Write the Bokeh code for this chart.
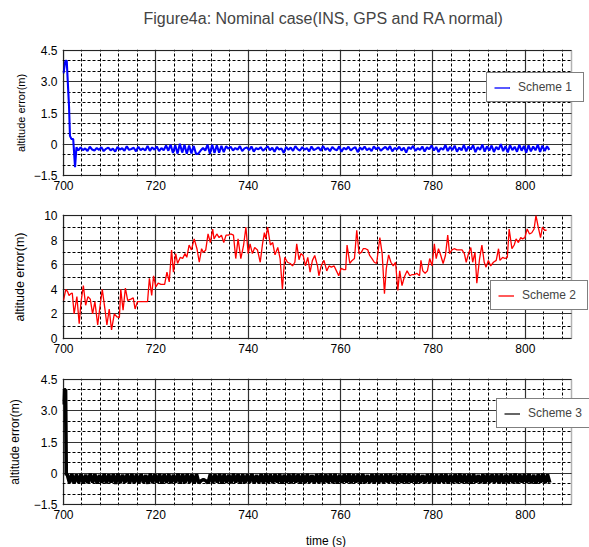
from bokeh.plotting import figure
from bokeh.models import FixedTicker, Legend, LegendItem, Title, Range1d, BoxAnnotation
from bokeh.layouts import column
from bokeh.embed import file_html
from bokeh.resources import INLINE
import numpy as np

FONT = "Liberation Sans"

# ---------------- data ----------------
x_lo, x_hi = 700, 810
x_major = [700, 720, 740, 760, 780, 800]
x_minor = [704, 708, 712, 716, 724, 728, 732, 736, 744, 748, 752, 756,
           764, 768, 772, 776, 784, 788, 792, 796, 804, 808]

# Scheme 1 (blue)
t1_head = [700.0, 700.4, 700.7, 701.2, 701.4, 701.7, 702.1, 702.5, 702.8]
v1_head = [3.4, 4.0, 4.0, 1.8, 0.4, 0.26, 0.25, -1.1, -0.15]
t1_start, t1_step = 703.2, 0.5
v1_body = [
    -0.30, -0.15, -0.28, -0.20, -0.32, -0.12, -0.25, -0.30, -0.18, -0.27,
    -0.14, -0.33, -0.22, -0.16, -0.29, -0.21, -0.35, -0.13, -0.26, -0.19,
    -0.31, -0.10, -0.27, -0.23, -0.17, -0.34, -0.12, -0.28, -0.20, -0.30,
    -0.08, -0.32, -0.15, -0.26, -0.11, -0.33, -0.18, -0.29, -0.06, -0.31,
    -0.02, -0.42, -0.05, -0.45, 0.02, -0.40, -0.03, -0.46, -0.06, -0.44, -0.08, -0.47,
    -0.45, -0.30, -0.18, -0.30, -0.02,
    -0.45, -0.02, -0.42, -0.05, -0.40, -0.08, -0.38, -0.10,
    -0.22, -0.12, -0.30, -0.18, -0.26, -0.09, -0.33, -0.20, -0.15, -0.28,
    -0.11, -0.35, -0.19, -0.24, -0.14, -0.31, -0.21, -0.10, -0.29, -0.17,
    -0.36, -0.13, -0.25, -0.20, -0.42, -0.12, -0.27, -0.16, -0.32, -0.09,
    -0.23, -0.30, -0.14, -0.26, -0.19, -0.34, -0.11, -0.28, -0.22, -0.15,
    -0.31, -0.08, -0.27, -0.18, -0.33, -0.13, -0.24, -0.29, -0.10, -0.36,
    -0.17, -0.25, -0.12, -0.30, -0.20, -0.14, -0.38, -0.16, -0.26, -0.11,
    -0.29, -0.19, -0.33, -0.10, -0.24, -0.15, -0.31, -0.21, -0.13, -0.27,
    -0.09, -0.34, -0.18, -0.25, -0.12, -0.30, -0.16, -0.40, -0.14, -0.23,
    -0.08, -0.32, -0.19, -0.27, -0.11, -0.35, -0.15, -0.24, -0.06, -0.30,
    -0.13, -0.37, -0.18, -0.26, -0.04, -0.33, -0.12, -0.28, -0.07, -0.36,
    -0.16, -0.29, -0.03, -0.34, -0.11, -0.25, -0.05, -0.38, -0.14, -0.27,
    -0.02, -0.35, -0.10, -0.30, -0.06, -0.37, -0.13, -0.26, 0.01, -0.33,
    -0.09, -0.39, -0.04, -0.28, -0.12, -0.36, -0.03, -0.31, -0.08, -0.40,
    -0.05, -0.34, -0.11, -0.29, -0.02, -0.37, -0.07, -0.32, -0.10, -0.27,
]

# Scheme 2 (red)
t2 = [
    700.0, 700.5, 700.9, 701.2, 701.6, 701.9, 702.3, 702.9, 703.4, 703.8,
    704.3, 704.8, 705.3, 705.8, 706.3, 706.8, 707.4, 707.9, 708.4, 709.0,
    709.4, 709.9, 710.4, 711.0, 711.6, 712.1, 712.4, 712.9, 713.4, 713.9,
    714.6, 715.1, 715.5, 716.0, 716.6, 717.1, 717.6, 718.2, 718.6, 719.1,
    719.5, 720.0, 720.5, 721.1, 721.5, 721.9, 722.4, 722.9, 723.4, 723.8,
    724.3, 724.7, 725.3, 725.8, 726.3, 726.7, 727.2, 727.7, 728.3, 728.9,
    729.4, 729.9, 730.3, 730.8, 731.3, 731.8, 732.3, 732.6, 733.2, 733.7,
    734.2, 734.7, 735.2, 735.7, 736.2, 736.8, 737.3, 737.8, 738.4, 739.0,
    739.5, 740.0, 740.4, 740.9, 741.4, 742.0, 742.6, 743.1, 743.5, 743.8,
    744.2, 744.8, 745.3, 745.8, 746.4, 746.9, 747.4, 747.9, 748.5, 749.1,
    749.6, 750.1, 750.5, 751.0,
    751.4, 751.9, 752.4, 752.9, 753.4, 753.9, 754.4, 755.0, 755.3, 755.8,
    756.4, 757.0, 757.5, 758.0, 758.6, 759.1, 759.6, 760.1, 760.7, 761.1,
    761.4, 762.0, 762.5, 763.0, 763.5, 764.0, 764.5, 764.9, 765.4, 765.9,
    766.3, 766.8, 767.3, 767.8, 768.3, 768.5, 769.0, 769.5, 769.9, 770.4,
    770.9, 771.4, 771.9, 772.4, 772.8, 773.3, 773.8, 774.4, 775.0, 775.5,
    776.0, 776.5, 777.1, 777.4, 777.8, 778.3, 778.8, 779.3, 779.8, 780.3,
    780.7, 781.2, 781.7, 782.2, 782.7, 783.2, 783.6, 784.1, 784.6, 785.2,
    785.8, 786.3, 786.8, 787.2, 787.7, 788.2, 788.6, 789.1, 789.5, 790.1,
    790.6, 791.1, 791.5, 792.0, 792.5, 793.1, 793.7, 794.2, 794.5, 795.1,
    795.6, 796.1, 796.5, 797.1, 797.6, 798.0, 798.5, 799.0, 799.4, 799.9,
    800.4, 800.9, 801.4, 801.9, 802.3, 802.8, 803.3, 803.7, 804.2, 804.6,
]
v2 = [
    3.1, 4.0, 3.8, 3.5, 3.65, 3.7, 2.0, 3.4, 1.2, 3.0,
    4.3, 2.7, 3.4, 3.2, 2.0, 3.0, 1.1, 2.6, 4.0, 2.3,
    1.1, 2.4, 0.7, 2.0, 1.75, 1.7, 4.0, 2.3, 4.1, 3.1,
    3.2, 3.3, 2.4, 3.0, 3.0, 3.0, 3.0, 3.0, 4.9, 3.5,
    5.1, 4.2, 4.5, 4.4, 4.4, 4.4, 5.4, 4.6, 7.2, 5.4,
    6.9, 6.1, 6.6, 6.5, 6.9, 6.6, 7.6, 7.2, 8.1, 7.3,
    6.2, 7.3, 7.0, 7.2, 8.5, 7.8, 8.9, 8.1, 8.5, 8.2,
    8.4, 7.8, 8.4, 8.4, 8.5, 8.4, 6.5, 8.1, 6.5, 7.6,
    9.05, 6.9, 7.7, 6.9, 7.4, 7.2, 6.2, 7.7, 8.6, 8.1,
    9.05, 7.6, 7.8, 6.8, 7.4, 6.5, 4.0, 6.6, 6.2, 6.1,
    5.9, 6.2, 7.7, 6.4,
    6.9, 6.75, 5.9, 6.6, 5.4, 6.35, 6.75, 5.9, 5.1, 5.9,
    6.35, 5.5, 5.9, 5.8, 5.9, 5.5, 5.1, 5.7, 5.6, 5.6,
    7.6, 6.1, 6.35, 6.5, 8.8, 6.9, 7.0, 7.3, 7.3, 7.2,
    6.75, 6.5, 6.2, 6.1, 7.6, 8.2, 6.9, 3.65, 5.7, 6.8,
    6.2, 5.9, 6.2, 3.9, 5.5, 4.3, 5.0, 5.5, 5.1, 5.2,
    5.2, 5.3, 5.1, 6.35, 5.5, 5.3, 5.5, 6.5, 5.9, 7.7,
    6.5, 7.3, 6.75, 6.1, 6.75, 8.4, 6.9, 7.2, 7.3, 7.2,
    7.2, 7.2, 6.9, 6.2, 6.9, 7.4, 6.2, 7.0, 4.5, 6.5,
    7.6, 6.2, 5.8, 6.35, 5.9, 6.2, 6.35, 7.3, 6.35, 6.6,
    6.5, 6.6, 8.9, 7.3, 7.6, 8.1, 7.8, 8.2, 8.1, 8.2,
    8.9, 8.5, 8.6, 8.9, 10.0, 9.05, 8.2, 9.05, 8.8, 8.8,
]

# Scheme 3 (black)
t3_head = [700.0, 700.2, 700.45, 700.6]
v3_head = [3.3, 4.0, 4.0, -0.1]
t3_start, t3_step = 700.8, 0.5
v3_body = [
    -0.05, -0.46, -0.03, -0.48, -0.06, -0.45, -0.04, -0.50, -0.07, -0.47,
    -0.02, -0.44, -0.05, -0.49, -0.08, -0.46, -0.03, -0.48, -0.06, -0.45,
    -0.04, -0.51, -0.02, -0.47, -0.07, -0.44, -0.05, -0.49, -0.03, -0.46,
    -0.06, -0.48, -0.04, -0.45, -0.08, -0.50, -0.02, -0.47, -0.05, -0.44,
    -0.03, -0.49, -0.06, -0.46, -0.04, -0.48, -0.07, -0.45, -0.02, -0.50,
    -0.05, -0.47, -0.03, -0.44, -0.06, -0.49, -0.04,
    -0.47, -0.36, -0.30, -0.36, -0.47,
    -0.04, -0.47, -0.06, -0.45, -0.03, -0.49, -0.05, -0.46, -0.07, -0.48,
    -0.02, -0.44, -0.05, -0.50, -0.04, -0.47, -0.06, -0.45, -0.03, -0.48,
    -0.08, -0.46, -0.04, -0.49, -0.02, -0.45, -0.06, -0.47, -0.05, -0.44,
    -0.03, -0.50, -0.07, -0.46, -0.04, -0.48, -0.02, -0.45, -0.06, -0.49,
    -0.05, -0.47, -0.03, -0.44, -0.08, -0.48, -0.04, -0.46, -0.02, -0.50,
    -0.06, -0.45, -0.04, -0.47, -0.03, -0.49, -0.07, -0.46, -0.05, -0.44,
    -0.02, -0.48, -0.06, -0.45, -0.04, -0.50, -0.03, -0.47, -0.08, -0.46,
    -0.05, -0.49, -0.02, -0.44, -0.06, -0.48, -0.04, -0.45, -0.03, -0.47,
    -0.07, -0.50, -0.05, -0.46, -0.02, -0.48, -0.06, -0.44, -0.04, -0.49,
    -0.03, -0.45, -0.08, -0.47, -0.05, -0.46, -0.02, -0.50, -0.06, -0.48,
    -0.04, -0.44, -0.03, -0.49, -0.07, -0.45, -0.05, -0.47, -0.02, -0.46,
    -0.06, -0.48, -0.04, -0.50, -0.03, -0.44, -0.08, -0.47, -0.05, -0.49,
    -0.02, -0.45, -0.06, -0.46, -0.04, -0.48, -0.03, -0.50, -0.07, -0.44,
    -0.05, -0.47, -0.02, -0.49, -0.06, -0.45, -0.04, -0.46, -0.03, -0.48,
    -0.07, -0.50, -0.05, -0.44, -0.02, -0.47, -0.06, -0.45,
]

y13_lim = (-1.5, 4.5)
y13_major = [-1.5, 0, 1.5, 3.0, 4.5]
y13_minor = [-1.0, -0.5, 0.5, 1.0, 2.0, 2.5, 3.5, 4.0]
y13_labels = {0: "0", 3.0: "3.0"}
y2_lim = (0, 10)
y2_major = [0, 2, 4, 6, 8, 10]
y2_minor = [1, 3, 5, 7, 9]

title_text = "Figure4a: Nominal case(INS, GPS and RA normal)"
ylabel = "altitude error(m)"
xlabel = "time (s)"
names = ["Scheme 1", "Scheme 2", "Scheme 3"]

t1 = t1_head + list(t1_start + t1_step * np.arange(len(v1_body)))
v1 = v1_head + v1_body
t3 = t3_head + list(t3_start + t3_step * np.arange(len(v3_body)))
v3 = v3_head + v3_body

# ---------------- layout helpers ----------------
BOX_W = 508          # pixel width of the bordered data box (700..810)
EXTRA_R = 18         # room to the right of the box (legends overhang into it)
PAD = 1              # 1px of frame around the bordered box
LEFT = 63            # left edge of the bordered box


def make_fig(ylim, ymaj, ymin, box_h, top, bottom, ylab_size, ylab_standoff):
    xs = (x_hi - x_lo) / BOX_W
    ys = (ylim[1] - ylim[0]) / box_h
    xr = Range1d(x_lo - PAD * xs, x_hi + EXTRA_R * xs)
    yr = Range1d(ylim[0] - PAD * ys, ylim[1] + PAD * ys)
    p = figure(frame_width=BOX_W + PAD + EXTRA_R, frame_height=box_h + 2 * PAD,
               x_range=xr, y_range=yr, output_backend="svg", toolbar_location=None,
               min_border_left=LEFT - PAD, min_border_right=0, min_border_top=top,
               min_border_bottom=bottom, background_fill_color="white",
               border_fill_color="white")
    p.outline_line_color = None
    p.xaxis.ticker = FixedTicker(ticks=x_major, minor_ticks=x_minor)
    p.yaxis.ticker = FixedTicker(ticks=ymaj, minor_ticks=ymin)
    for g in (p.xgrid, p.ygrid):
        g.grid_line_color = "#333333"
        g.grid_line_width = 1.2
        g.minor_grid_line_color = "black"
        g.minor_grid_line_width = 1
        g.minor_grid_line_dash = "3 2"
    for ax in (p.xaxis, p.yaxis):
        ax.axis_line_color = None
        ax.major_tick_out = 0
        ax.major_tick_in = 0
        ax.minor_tick_out = 0
        ax.minor_tick_in = 0
        ax.major_label_text_font = FONT
        ax.major_label_text_font_size = "12px"
        ax.major_label_text_color = "black"
        ax.axis_label_text_font = FONT
        ax.axis_label_text_font_style = "normal"
        ax.axis_label_text_color = "black"
    p.xaxis.major_label_standoff = 4
    p.yaxis.major_label_standoff = 5
    p.yaxis.axis_label = ylabel
    p.yaxis.axis_label_text_font_size = ylab_size
    p.yaxis.axis_label_standoff = ylab_standoff
    # white area right of the data box, then the box border
    p.add_layout(BoxAnnotation(left=x_hi, fill_color="white", fill_alpha=1,
                               line_color=None))
    p.add_layout(BoxAnnotation(left=x_lo, right=x_hi, bottom=ylim[0], top=ylim[1],
                               fill_alpha=0, line_color="black", line_width=1.5))
    return p


def add_legend(p, r, label, loc):
    leg = Legend(items=[LegendItem(label=label, renderers=[r])], location=loc,
                 padding=7, margin=0, spacing=0, glyph_width=16, glyph_height=13,
                 label_height=13, label_width=58, label_standoff=8,
                 label_text_font=FONT, label_text_font_size="12px",
                 border_line_color="black", border_line_width=1,
                 background_fill_color="white", background_fill_alpha=1)
    p.add_layout(leg)


p1 = make_fig(y13_lim, y13_major, y13_minor, 125, 49, 24, "11px", 4)
p1.yaxis.major_label_overrides = y13_labels
p1.title = Title(text=title_text, align="left", offset=81, text_font=FONT,
                 text_font_size="16px", text_font_style="normal", standoff=4)
p1.add_layout(Title(text=" ", text_font_size="17px", standoff=0), "above")
r1 = p1.line(t1, v1, color="#0000ff", line_width=2.1)
r1_key = p1.line(t1, v1, color="#0000ff", line_width=1.3, visible=False)
add_legend(p1, r1_key, names[0], (424, 74))

p2 = make_fig(y2_lim, y2_major, y2_minor, 123, 14, 24, "12.5px", 14)
r2 = p2.line(t2, v2, color="#ff0000", line_width=1.3)
add_legend(p2, r2, names[1], (428, 29))

p3 = make_fig(y13_lim, y13_major, y13_minor, 125, 15, 42, "12px", 9)
p3.yaxis.major_label_overrides = y13_labels
p3.xaxis.axis_label = xlabel
p3.xaxis.axis_label_text_font_size = "12px"
p3.xaxis.axis_label_standoff = 12
r3 = p3.line(t3, v3, color="black", line_width=3.6)
# thin legend proxy (same data, not drawn) so the legend sample stays a thin line
r3_key = p3.line(t3, v3, color="black", line_width=1.2, visible=False)
add_legend(p3, r3_key, names[2], (434, 77))

layout = column(p1, p2, p3, spacing=0)
open("out.html", "w").write(file_html(layout, INLINE))
